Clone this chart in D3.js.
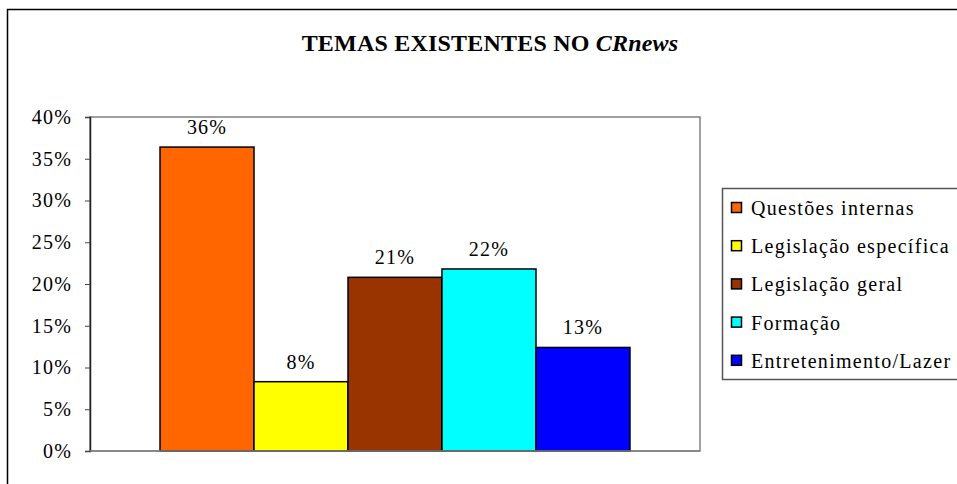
<!DOCTYPE html>
<html><head><meta charset="utf-8">
<script src="https://cdn.jsdelivr.net/npm/d3@7"></script>
<style>body{margin:0;background:#fff}svg{display:block}text{font-family:"Liberation Serif","Times New Roman",serif}</style>
</head><body>
<svg id="c" width="957" height="484"></svg>
<script>
const categories = ["Questões internas","Legislação específica","Legislação geral","Formação","Entretenimento/Lazer"];
const values = [0.364, 0.083, 0.208, 0.218, 0.124];
const labels = ["36%","8%","21%","22%","13%"];
const colors = ["#FF6600","#FFFF00","#993300","#00FFFF","#0000FF"];
const yTicks = [0,0.05,0.10,0.15,0.20,0.25,0.30,0.35,0.40];
const titleMain = "TEMAS EXISTENTES NO ";
const titleItalic = "CRnews";

const svg = d3.select("#c");
svg.append("rect").attr("x",7.5).attr("y",9.5).attr("width",1000).attr("height",1000)
  .attr("fill","#fff").attr("stroke","#000").attr("stroke-width",1.5);

const plot = {l:90,r:700,t:117,b:451};
const y = d3.scaleLinear().domain([0,0.4]).range([plot.b,plot.t]);
const xg = d3.scaleBand().domain(["g"]).range([plot.l,plot.r]).paddingOuter(0.149).paddingInner(0);
const xs = d3.scaleBand().domain(categories).range([xg("g"), xg("g")+xg.bandwidth()]).padding(0);

// plot frame
svg.append("rect").attr("x",plot.l).attr("y",plot.t).attr("width",plot.r-plot.l).attr("height",plot.b-plot.t)
  .attr("fill","#fff").attr("stroke","#808080").attr("stroke-width",1.5);

// title
const t = svg.append("text").attr("x",490).attr("y",51).attr("text-anchor","middle")
  .attr("font-size",24).attr("font-weight","bold").attr("letter-spacing","0.2px");
t.append("tspan").text(titleMain);
t.append("tspan").attr("font-style","italic").text(titleItalic);

// y axis
const ya = svg.append("g").attr("transform",`translate(${plot.l},0)`)
  .call(d3.axisLeft(y).tickValues(yTicks).tickFormat(d3.format(".0%")).tickSize(5).tickPadding(13));
ya.select(".domain").attr("stroke","#222").attr("stroke-width",1.5);
ya.selectAll(".tick line").attr("stroke","#444");
ya.selectAll("text").attr("font-size",20).attr("letter-spacing","1.2px").attr("fill","#000")
  .attr("font-family","Liberation Serif, serif");

// bars
svg.append("g").selectAll("rect").data(categories).join("rect")
  .attr("x",d=>xs(d)).attr("width",xs.bandwidth())
  .attr("y",(d,i)=>y(values[i])).attr("height",(d,i)=>plot.b-y(values[i]))
  .attr("fill",(d,i)=>colors[i]).attr("stroke","#000").attr("stroke-width",1.5);

// bottom axis line
svg.append("line").attr("x1",plot.l).attr("x2",plot.r).attr("y1",plot.b).attr("y2",plot.b)
  .attr("stroke","#808080").attr("stroke-width",1.5);

// value labels
svg.append("g").selectAll("text").data(categories).join("text")
  .attr("x",d=>xs(d)+xs.bandwidth()/2).attr("y",(d,i)=>y(values[i])-13)
  .attr("text-anchor","middle").attr("font-size",20).attr("letter-spacing","1.2px")
  .text((d,i)=>labels[i]);

// legend
const lg = svg.append("g");
lg.append("rect").attr("x",722.5).attr("y",188.5).attr("width",300).attr("height",191)
  .attr("fill","#fff").attr("stroke","#555").attr("stroke-width",1.5);
categories.forEach((c,i)=>{
  const cy = 208 + i*38.2;
  lg.append("rect").attr("x",731.5).attr("y",cy-5.5).attr("width",10).attr("height",10)
    .attr("fill",colors[i]).attr("stroke","#000").attr("stroke-width",1.5);
  lg.append("text").attr("x",751).attr("y",cy+7).attr("font-size",20).attr("letter-spacing","1.3px").text(c);
});
</script>
</body></html>
